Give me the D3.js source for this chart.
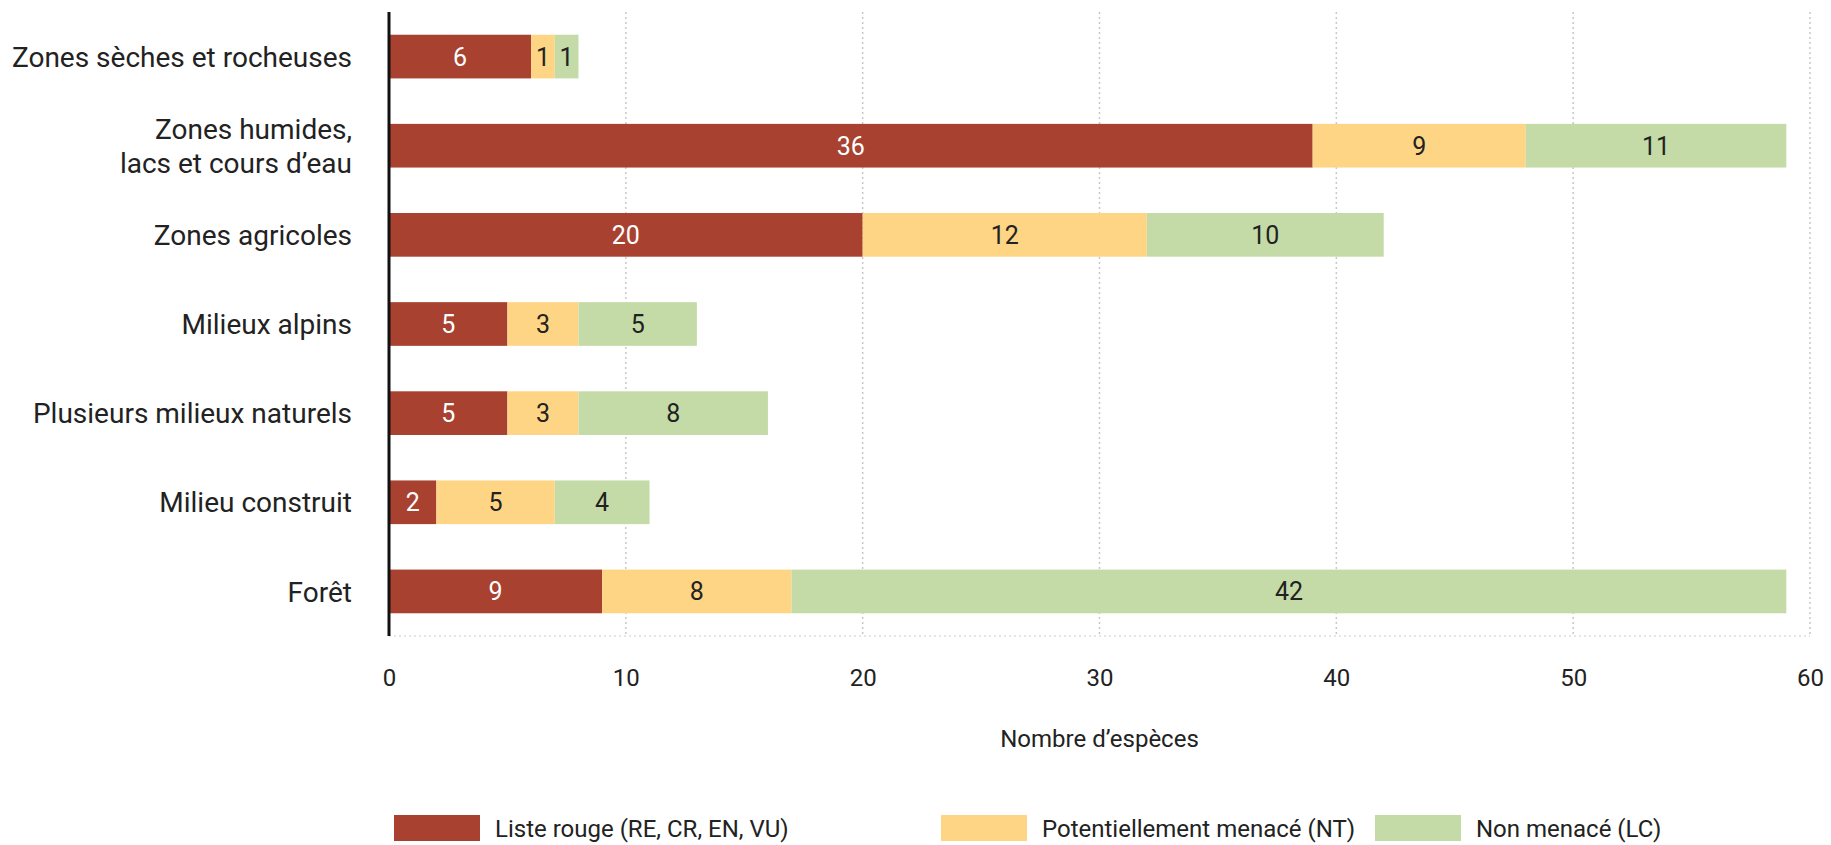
<!DOCTYPE html>
<html>
<head>
<meta charset="utf-8">
<script src="https://cdn.jsdelivr.net/npm/d3@7"></script>
<style>
  body { margin: 0; background: #fff; }
  svg text { font-family: Roboto, "Noto Sans", sans-serif; }
</style>
</head>
<body>
<div id="chart"></div>
<script>
var categories = [
  ['Zones sèches et rocheuses'],
  ['Zones humides,', 'lacs et cours d\u2019eau'],
  ['Zones agricoles'],
  ['Milieux alpins'],
  ['Plusieurs milieux naturels'],
  ['Milieu construit'],
  ['Forêt']
];
var listeRouge = [6, 39, 20, 5, 5, 2, 9];
// printed labels (the source prints 36 on the wetlands bar)
var listeRougeLabels = [6, 36, 20, 5, 5, 2, 9];
var potMenace = [1, 9, 12, 3, 3, 5, 8];
var nonMenace = [1, 11, 10, 5, 8, 4, 42];
var xTicks = [0, 10, 20, 30, 40, 50, 60];
var seriesNames = ['Liste rouge (RE, CR, EN, VU)', 'Potentiellement menacé (NT)', 'Non menacé (LC)'];

var colours = {
  red: '#a84130',
  yellow: '#fed584',
  green: '#c4dba8',
  text: '#222222',
  grid: '#c8c8c8'
};

var width = 1831, height = 845;
var margin = { left: 389, right: 21, top: 12, bottom: 209 };

var svg = d3.select('#chart')
  .append('svg')
  .attr('width', width)
  .attr('height', height);

var x = d3.scaleLinear().domain([0, 60]).range([margin.left, width - margin.right]);
var y = d3.scaleBand()
  .domain(d3.range(categories.length))
  .range([margin.top, height - margin.bottom])
  .paddingInner(0.51)
  .paddingOuter(0.255);

// dotted grid
svg.append('g')
  .selectAll('line')
  .data(xTicks.slice(1))
  .enter().append('line')
  .attr('x1', d => x(d)).attr('x2', d => x(d))
  .attr('y1', margin.top).attr('y2', height - margin.bottom)
  .attr('stroke', colours.grid)
  .attr('stroke-width', 1.5)
  .attr('stroke-dasharray', '2,3');
svg.append('line')
  .attr('x1', x(0)).attr('x2', x(60))
  .attr('y1', height - margin.bottom).attr('y2', height - margin.bottom)
  .attr('stroke', '#dddddd')
  .attr('stroke-width', 1.5)
  .attr('stroke-dasharray', '2,3');

// stack the series
var rows = categories.map((c, i) => ({
  i: i,
  segs: [
    { key: 0, v: listeRouge[i], label: listeRougeLabels[i], fill: colours.red, tc: '#ffffff' },
    { key: 1, v: potMenace[i], label: potMenace[i], fill: colours.yellow, tc: colours.text },
    { key: 2, v: nonMenace[i], label: nonMenace[i], fill: colours.green, tc: colours.text }
  ]
}));
rows.forEach(r => {
  var acc = 0;
  r.segs.forEach(s => { s.x0 = acc; acc += s.v; s.x1 = acc; });
});

var row = svg.append('g').selectAll('g')
  .data(rows)
  .enter().append('g');

row.selectAll('rect')
  .data(r => r.segs.map(s => Object.assign({ i: r.i }, s)))
  .enter().append('rect')
  .attr('x', d => x(d.x0))
  .attr('y', d => y(d.i))
  .attr('width', d => x(d.x1) - x(d.x0))
  .attr('height', y.bandwidth())
  .attr('fill', d => d.fill);

row.selectAll('text')
  .data(r => r.segs.map(s => Object.assign({ i: r.i }, s)))
  .enter().append('text')
  .attr('x', d => (x(d.x0) + x(d.x1)) / 2)
  .attr('y', d => y(d.i) + y.bandwidth() / 2)
  .attr('dy', '0.36em')
  .attr('text-anchor', 'middle')
  .attr('font-size', '25px')
  .attr('fill', d => d.tc)
  .text(d => d.label);

// category labels
var labelX = margin.left - 37;
var cat = svg.append('g').selectAll('text')
  .data(categories)
  .enter().append('text')
  .attr('x', labelX)
  .attr('y', (d, i) => y(i) + y.bandwidth() / 2)
  .attr('text-anchor', 'end')
  .attr('font-size', '28px')
  .attr('fill', colours.text);
cat.each(function(lines) {
  var t = d3.select(this);
  lines.forEach((l, k) => {
    t.append('tspan')
      .attr('x', labelX)
      .attr('dy', k === 0 ? (0.36 - (lines.length - 1) * 0.6) + 'em' : '1.2em')
      .text(l);
  });
});

// x axis labels
var xAxis = svg.append('g')
  .attr('transform', 'translate(0,' + (height - margin.bottom) + ')')
  .call(d3.axisBottom(x).tickValues(xTicks).tickSize(0).tickPadding(33));
xAxis.select('.domain').remove();
xAxis.selectAll('text')
  .attr('font-size', '24px')
  .attr('fill', colours.text)
  .style('font-family', 'Roboto, "Noto Sans", sans-serif');

// y axis line
svg.append('line')
  .attr('x1', margin.left).attr('x2', margin.left)
  .attr('y1', margin.top).attr('y2', height - margin.bottom)
  .attr('stroke', '#111')
  .attr('stroke-width', 3);

svg.append('text')
  .attr('x', (x(0) + x(60)) / 2)
  .attr('y', 738)
  .attr('dy', '0.36em')
  .attr('text-anchor', 'middle')
  .attr('font-size', '24px')
  .attr('fill', colours.text)
  .text('Nombre d\u2019espèces');

// legend
var legendX = [394, 941, 1375];
var legendFill = [colours.red, colours.yellow, colours.green];
var legend = svg.append('g').selectAll('g')
  .data(seriesNames)
  .enter().append('g')
  .attr('transform', (d, i) => 'translate(' + legendX[i] + ',815)');
legend.append('rect')
  .attr('width', 86).attr('height', 26)
  .attr('fill', (d, i) => legendFill[i]);
legend.append('text')
  .attr('x', 101).attr('y', 13)
  .attr('dy', '0.36em')
  .attr('font-size', '24px')
  .attr('fill', colours.text)
  .text(d => d);
</script>
</body>
</html>
